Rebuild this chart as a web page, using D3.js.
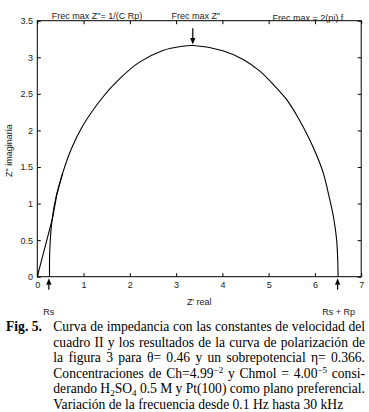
<!DOCTYPE html>
<html>
<head>
<meta charset="utf-8">
<script src="https://cdn.jsdelivr.net/npm/d3@7"></script>
<style>
  body { margin: 0; background: #fff; }
  svg { display: block; }
  .axis text { font-family: "Liberation Sans", Arial, sans-serif; font-size: 9px; fill: #222; }
  .axis line { stroke: #000; }
  .lbl { font-family: "Liberation Sans", Arial, sans-serif; font-size: 9px; fill: #222; }
  .cap { font-family: "Liberation Serif", "Times New Roman", serif; font-size: 13.6px; fill: #000; }
</style>
</head>
<body>
<script>
// Data
var xTicks = [0, 1, 2, 3, 4, 5, 6, 7];
var yTicks = [0, 0.5, 1, 1.5, 2, 2.5, 3, 3.5];

// main impedance arc (Z' real, Z'' imaginaria)
var zReal = [0.264, 0.27, 0.32, 0.41, 0.55, 0.73, 0.98, 1.41, 1.77, 2.20, 2.70, 3.13, 3.38,
             4.01, 4.45, 4.81, 5.17, 5.39, 5.64, 5.85, 6.03, 6.18, 6.29, 6.40, 6.47, 6.50, 6.50];
var zImag = [0, 0.37, 0.78, 1.10, 1.42, 1.74, 2.06, 2.45, 2.70, 2.93, 3.09, 3.15, 3.16,
             3.09, 2.97, 2.81, 2.58, 2.42, 2.17, 1.92, 1.67, 1.42, 1.14, 0.82, 0.50, 0.05, 0];

// high-frequency branch starting at the origin
var hfReal = [0, 0.33, 0.42, 0.55];
var hfImag = [0, 0.80, 1.12, 1.42];

// marked points
var rs = 0.25, rsRp = 6.49;
var peakX = 3.36, peakY = 3.16;

var topLabels = ["Frec max Z\"= 1/(C Rp)", "Frec max Z\"", "Frec max = 2(pi) f"];
var xTitle = "Z' real", yTitle = "Z\" imaginaria";

var captionHead = "Fig. 5.";
var captionLines = [
    [{t: "Curva de impedancia con las constantes de velocidad del"}],
    [{t: "cuadro II y los resultados de la curva de polarización de"}],
    [{t: "la figura 3 para θ= 0.46 y un sobrepotencial η= 0.366."}],
    [{t: "Concentraciones de Ch=4.99"}, {t: "−2", sup: 1}, {t: " y Chmol = 4.00"}, {t: "−5", sup: 1}, {t: " consi-"}],
    [{t: "derando H"}, {t: "2", sub: 1}, {t: "SO"}, {t: "4", sub: 1}, {t: " 0.5 M y Pt(100) como plano preferencial."}],
    [{t: "Variación de la frecuencia desde 0.1 Hz hasta 30 kHz"}]
];

// Layout
var W = 369, H = 412;
var plot = {left: 37.3, right: 361.2, top: 20.7, bottom: 276.7};

var svg = d3.select("body").append("svg")
    .attr("width", W)
    .attr("height", H);

svg.append("rect").attr("width", W).attr("height", H).attr("fill", "#fff");

var x = d3.scaleLinear().domain([0, 7]).range([plot.left, plot.right]);
var y = d3.scaleLinear().domain([0, 3.5]).range([plot.bottom, plot.top]);

var fmt = function(d) { return d3.format("")(d); };

// Axes with inward ticks
svg.append("g")
    .attr("class", "axis")
    .attr("transform", "translate(0," + plot.bottom + ")")
    .call(d3.axisBottom(x).tickValues(xTicks).tickFormat(fmt).tickSizeInner(-3.5).tickSizeOuter(0).tickPadding(5.4))
    .call(function(g) { g.select(".domain").remove(); });

svg.append("g")
    .attr("class", "axis")
    .attr("transform", "translate(" + plot.left + ",0)")
    .call(d3.axisLeft(y).tickValues(yTicks).tickFormat(fmt).tickSizeInner(-3.5).tickSizeOuter(0).tickPadding(4.3))
    .call(function(g) { g.select(".domain").remove(); });

svg.append("g")
    .attr("class", "axis")
    .attr("transform", "translate(0," + plot.top + ")")
    .call(d3.axisTop(x).tickValues(xTicks).tickFormat("").tickSizeInner(-3.5).tickSizeOuter(0))
    .call(function(g) { g.select(".domain").remove(); });

svg.append("g")
    .attr("class", "axis")
    .attr("transform", "translate(" + plot.right + ",0)")
    .call(d3.axisRight(y).tickValues(yTicks).tickFormat("").tickSizeInner(-3.5).tickSizeOuter(0))
    .call(function(g) { g.select(".domain").remove(); });

// frame
svg.append("rect")
    .attr("x", plot.left)
    .attr("y", plot.top)
    .attr("width", plot.right - plot.left)
    .attr("height", plot.bottom - plot.top)
    .attr("fill", "none")
    .attr("stroke", "#000")
    .attr("stroke-width", 1);

// curves
var line = d3.line()
    .x(function(d) { return x(d[0]); })
    .y(function(d) { return y(d[1]); })
    .curve(d3.curveCatmullRom.alpha(0.5));

svg.append("path")
    .datum(d3.zip(zReal, zImag))
    .attr("d", line)
    .attr("fill", "none")
    .attr("stroke", "#000")
    .attr("stroke-width", 1.1);

svg.append("path")
    .datum(d3.zip(hfReal, hfImag))
    .attr("d", d3.line().x(function(d) { return x(d[0]); }).y(function(d) { return y(d[1]); }))
    .attr("fill", "none")
    .attr("stroke", "#000")
    .attr("stroke-width", 1.1);

// arrows
function arrow(x0, y0, x1, y1) {
    // line from (x0,y0) to tip (x1,y1), filled head at the tip
    var dx = x1 - x0, dy = y1 - y0, len = Math.sqrt(dx * dx + dy * dy);
    var ux = dx / len, uy = dy / len, hl = 6.5, hw = 2.6;
    svg.append("line")
        .attr("x1", x0).attr("y1", y0)
        .attr("x2", x1 - ux * hl).attr("y2", y1 - uy * hl)
        .attr("stroke", "#000").attr("stroke-width", 1.2);
    var bx = x1 - ux * hl, by = y1 - uy * hl;
    svg.append("path")
        .attr("d", "M" + x1 + "," + y1 +
                   "L" + (bx - uy * hw) + "," + (by + ux * hw) +
                   "L" + (bx + uy * hw) + "," + (by - ux * hw) + "Z")
        .attr("fill", "#000");
}

arrow(x(peakX), plot.top + 7.5, x(peakX), y(peakY) - 1);
arrow(x(rs), plot.bottom + 13, x(rs), plot.bottom + 1.5);
arrow(x(rsRp), plot.bottom + 13, x(rsRp), plot.bottom + 1.5);

// labels
svg.append("text").attr("class", "lbl")
    .attr("x", 97).attr("y", 18.5).attr("text-anchor", "middle")
    .text(topLabels[0]);
svg.append("text").attr("class", "lbl")
    .attr("x", x(peakX) + 3).attr("y", 18.5).attr("text-anchor", "middle")
    .text(topLabels[1]);
svg.append("text").attr("class", "lbl")
    .attr("x", 308).attr("y", 21).attr("text-anchor", "middle")
    .text(topLabels[2]);

svg.append("text").attr("class", "lbl")
    .attr("x", x(rs)).attr("y", 314.5).attr("text-anchor", "middle")
    .text("Rs");
svg.append("text").attr("class", "lbl")
    .attr("x", x(rsRp) + 1).attr("y", 314.5).attr("text-anchor", "middle")
    .text("Rs + Rp");

svg.append("text").attr("class", "lbl")
    .attr("x", (plot.left + plot.right) / 2).attr("y", 305).attr("text-anchor", "middle")
    .text(xTitle);

svg.append("text").attr("class", "lbl")
    .attr("transform", "translate(12," + ((plot.top + plot.bottom) / 2 + 2) + ") rotate(-90)")
    .attr("text-anchor", "middle")
    .text(yTitle);

// caption
var capLeft = 53.3, capRight = 365, capTop = 331, capStep = 15.6;

svg.append("text").attr("class", "cap")
    .attr("x", 6).attr("y", capTop)
    .style("font-weight", "bold")
    .text(captionHead);

captionLines.forEach(function(parts, i) {
    var t = svg.append("text").attr("class", "cap")
        .attr("x", capLeft).attr("y", capTop + i * capStep);
    var shift = 0;
    parts.forEach(function(p) {
        var ts = t.append("tspan").text(p.t);
        var target = p.sup ? -5 : (p.sub ? 3 : 0);
        if (target !== shift) { ts.attr("dy", target - shift); shift = target; }
        if (p.sup || p.sub) ts.style("font-size", "9px");
    });
    // justify all but the last line
    if (i < captionLines.length - 1) {
        var full = parts.map(function(p) { return p.t; }).join("");
        var gaps = full.split(" ").length - 1;
        var w = t.node().getComputedTextLength();
        var extra = (capRight - capLeft - w) / gaps;
        t.style("word-spacing", extra + "px");
    }
});
</script>
</body>
</html>
